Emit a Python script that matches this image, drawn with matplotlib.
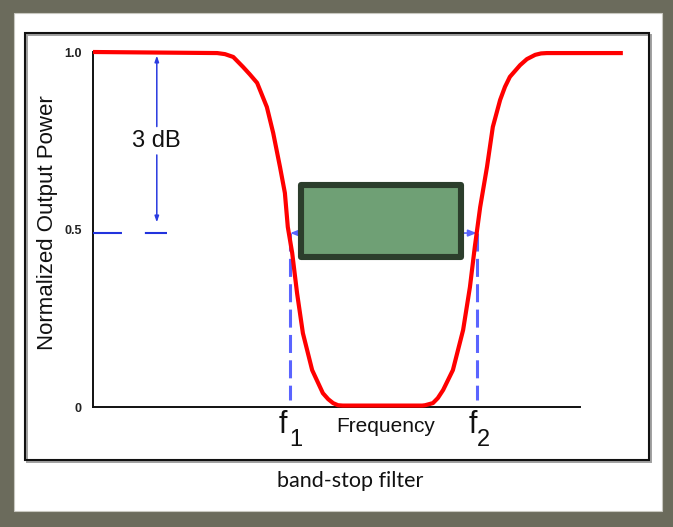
import matplotlib
matplotlib.use("Agg")
import matplotlib.pyplot as plt
from matplotlib.patches import Rectangle

plt.rcParams['font.family'] = ['Liberation Sans', 'DejaVu Sans']

# ---- data (frequency in arbitrary units, normalized output power) ----
freq = [0.0, 2.55, 2.71, 2.88, 2.98, 3.08, 3.22, 3.37, 3.57, 3.70, 3.84, 3.94, 4.00,
        4.09, 4.19, 4.31, 4.50, 4.72, 4.83, 4.93, 5.03, 5.13,
        6.76, 6.82, 6.98, 7.08, 7.19, 7.39, 7.60, 7.74, 7.84, 7.95,
        8.09, 8.21, 8.36, 8.46, 8.56, 8.77, 8.91, 9.08, 9.20, 9.32, 10.88]
power = [1.0, 0.997, 0.994, 0.986, 0.972, 0.958, 0.937, 0.913, 0.845, 0.772, 0.676,
         0.603, 0.507, 0.434, 0.321, 0.208, 0.104, 0.039, 0.022, 0.011, 0.005, 0.004,
         0.004, 0.005, 0.011, 0.025, 0.048, 0.104, 0.217, 0.338, 0.451, 0.563,
         0.676, 0.789, 0.865, 0.902, 0.930, 0.963, 0.980, 0.992, 0.996, 0.997, 0.997]
f1 = 4.05
f2 = 7.88
half_power = 0.49
ytick_vals = [0, 0.5, 1.0]
ytick_labels = ["0", "0.5", "1.0"]

W, H = 673, 527
fig = plt.figure(figsize=(W / 100, H / 100), dpi=100)
fig.patch.set_facecolor('#6b6b5c')

# background decoration axes in pixel coords
bg = fig.add_axes([0, 0, 1, 1], zorder=0)
bg.set_xlim(0, W)
bg.set_ylim(H, 0)
bg.axis('off')
bg.add_patch(Rectangle((14, 13), 648, 498, facecolor='white', edgecolor='#c8c8c0', lw=0.8))
bg.add_patch(Rectangle((26.5, 34.5), 624, 427, facecolor='none', edgecolor='#a0a0a0', lw=1.4))
bg.add_patch(Rectangle((25, 33), 624, 427, facecolor='none', edgecolor='#111111', lw=1.5))

# data axes
x0, y0, x1, y1 = 93, 52, 580, 407
ax = fig.add_axes([x0 / W, 1 - y1 / H, (x1 - x0) / W, (y1 - y0) / H], zorder=1)
ax.set_facecolor('none')
ax.set_xlim(0, 10)
ax.set_ylim(0, 1)
for s in ['top', 'right']:
    ax.spines[s].set_visible(False)
for s in ['left', 'bottom']:
    ax.spines[s].set_color('#111111')
    ax.spines[s].set_linewidth(1.4)
ax.set_xticks([])
ax.set_yticks(ytick_vals)
ax.set_yticklabels(ytick_labels, fontsize=9, fontweight='bold', color='#222222')
ax.tick_params(axis='y', length=0, pad=8)

# response curve
ax.plot(freq, power, color='#ff0000', lw=3.0, clip_on=False, zorder=4,
        solid_joinstyle='round', solid_capstyle='butt')

# half-power dashed verticals
for f in (f1, f2):
    ax.plot([f, f], [half_power, 0.02], color='#5a64ff', lw=2.2,
            dashes=(5.9, 2.4), zorder=3)

# half-power line between f1 and f2 (behind the box)
ax.annotate('', xy=(f2, half_power), xytext=(f1, half_power),
            arrowprops=dict(arrowstyle='<|-|>,head_length=0.5,head_width=0.2',
                            color='#5a64ff', lw=1.2, shrinkA=0, shrinkB=0), zorder=3)

# left dashed half-power marker
ax.plot([0, 1.52], [half_power, half_power], color='#2233dd', lw=1.5,
        dashes=(13.9, 11.0), clip_on=False, zorder=3)

# 3 dB arrow
xa = 1.31
arr = dict(arrowstyle='-|>,head_length=0.35,head_width=0.12', color='#2a3be0',
           lw=1.1, shrinkA=0, shrinkB=0)
ax.annotate('', xy=(xa, 0.99), xytext=(xa, 0.79), arrowprops=arr)
ax.annotate('', xy=(xa, 0.52), xytext=(xa, 0.71), arrowprops=arr)
ax.text(xa, 0.75, '3 dB', ha='center', va='center', fontsize=17, color='#111111')

# labels
ax.text(-0.93, 0.52, 'Normalized Output Power', rotation=90, ha='center',
        va='center', fontsize=16, color='#111111', clip_on=False)
ax.text(6.02, -0.056, 'Frequency', ha='center', va='center', fontsize=15,
        color='#111111', clip_on=False)
ax.text(f1 - 0.15, -0.05, 'f', ha='center', va='center', fontsize=22,
        color='#111111', clip_on=False)
ax.text(f1 + 0.12, -0.093, '1', ha='center', va='center', fontsize=17,
        color='#111111', clip_on=False)
ax.text(f2 - 0.08, -0.05, 'f', ha='center', va='center', fontsize=22,
        color='#111111', clip_on=False)
ax.text(f2 + 0.14, -0.093, '2', ha='center', va='center', fontsize=17,
        color='#111111', clip_on=False)

# foreground overlay (pixel coords)
fg = fig.add_axes([0, 0, 1, 1], zorder=2)
fg.set_facecolor('none')
fg.set_xlim(0, W)
fg.set_ylim(H, 0)
fg.axis('off')
fg.add_patch(Rectangle((301, 185), 160, 72, facecolor='#6fa075', edgecolor='#2c3e2c',
                       lw=4.4, joinstyle='round'))
fg.text(350, 481, 'band-stop filter', ha='center', va='center', fontsize=15.5,
        family=['Lato', 'DejaVu Sans'], color='#111111')

fig.savefig('out.png', dpi=100, facecolor=fig.get_facecolor())
